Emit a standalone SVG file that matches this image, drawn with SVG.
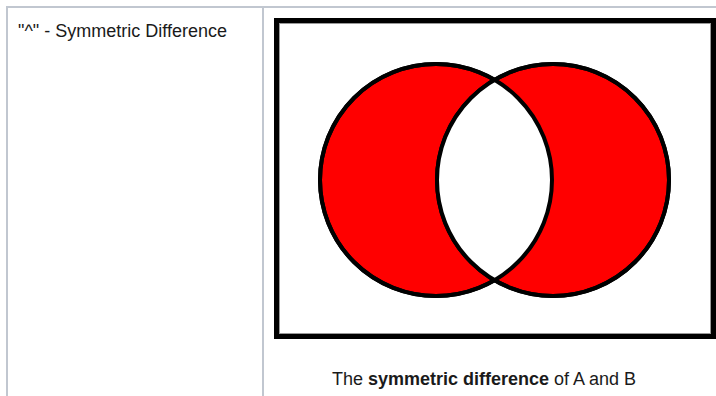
<svg xmlns="http://www.w3.org/2000/svg" width="716" height="396" viewBox="0 0 716 396">
<style>
.grid{stroke:#c1c7d0;stroke-width:2;fill:none}
.t{font-family:"Liberation Sans",Arial,sans-serif;font-size:18px;fill:#1a1a1a}
.set{fill:#ff0000;stroke:#000;stroke-width:4}
</style>
<rect width="716" height="396" fill="#fff"/>
<g id="table">
<line class="grid" x1="6" y1="7" x2="716" y2="7"/>
<line class="grid" x1="7" y1="6" x2="7" y2="396"/>
<line class="grid" x1="263" y1="6" x2="263" y2="396"/>
</g>
<g id="label">
<text class="t" x="18" y="37">"^" - Symmetric Difference</text>
</g>
<g id="frame">
<rect x="276.5" y="20.5" width="437" height="316" fill="#fff" stroke="#000" stroke-width="5"/>
<rect x="279.5" y="23.5" width="431" height="310" fill="none" stroke="#999" stroke-width="1"/>
</g>
<g id="venn">
<defs>
<clipPath id="clipA"><circle cx="436" cy="180" r="116"/></clipPath>
</defs>
<circle class="set" cx="436" cy="180" r="116"/>
<circle class="set" cx="553" cy="180" r="116"/>
<circle cx="553" cy="180" r="116" fill="#fff" clip-path="url(#clipA)"/>
<circle cx="436" cy="180" r="116" fill="none" stroke="#000" stroke-width="4"/>
<circle cx="553" cy="180" r="116" fill="none" stroke="#000" stroke-width="4"/>
</g>
<g id="caption">
<text class="t" x="484" y="385" text-anchor="middle">The <tspan font-weight="bold">symmetric difference</tspan> of A and B</text>
</g>
</svg>
